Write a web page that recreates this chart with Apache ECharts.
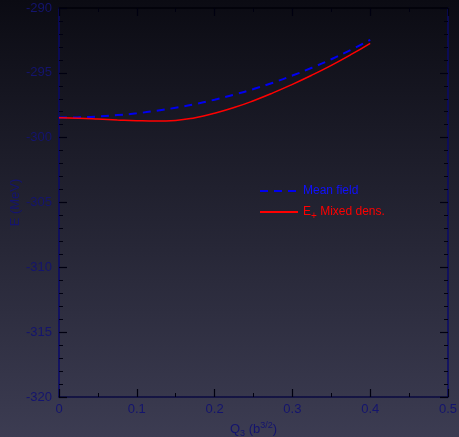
<!DOCTYPE html>
<html>
<head>
<meta charset="utf-8">
<script src="https://cdn.jsdelivr.net/npm/echarts@6/dist/echarts.min.js"></script>
<style>
html,body{margin:0;padding:0;}
#chart{width:459px;height:437px;}
</style>
</head>
<body>
<div id="chart"></div>
<script>
const q3Values = [0, 0.025, 0.05, 0.075, 0.1, 0.125, 0.15, 0.175, 0.2, 0.225, 0.25, 0.275, 0.3, 0.325, 0.35, 0.375, 0.4];
const meanField = [-298.45, -298.43, -298.37, -298.26, -298.12, -297.93, -297.69, -297.41, -297.07, -296.68, -296.25, -295.76, -295.21, -294.61, -293.95, -293.23, -292.45];
const mixedDens = [-298.46, -298.50, -298.56, -298.63, -298.69, -298.72, -298.67, -298.46, -298.12, -297.68, -297.15, -296.55, -295.89, -295.18, -294.42, -293.60, -292.72];
const xTicks = [0, 0.1, 0.2, 0.3, 0.4, 0.5];
const yTicks = [-320, -315, -310, -305, -300, -295, -290];

const labelColor = '#14146e';
const fontFam = '"Liberation Sans", Arial, Helvetica, sans-serif';

const chart = echarts.init(document.getElementById('chart'), null, {renderer: 'canvas'});

function pairs(xs, ys) { return xs.map((x, i) => [x, ys[i]]); }

const tickCommon = {
  axisTick: {show: true, inside: true, length: 8, lineStyle: {color: '#000010', width: 1.2}},
  splitLine: {show: false},
  minorSplitLine: {show: false}
};

const option = {
  animation: false,
  backgroundColor: new echarts.graphic.LinearGradient(0, 0, 0, 1, [
    {offset: 0, color: '#0b0b13'},
    {offset: 1, color: '#3c3c52'}
  ]),
  grid: {left: 59, top: 8, right: 11, bottom: 40, containLabel: false, outerBoundsMode: 'none'},
  xAxis: [{
    type: 'value', min: xTicks[0], max: xTicks[xTicks.length - 1], interval: 0.1,
    position: 'bottom',
    axisLine: {show: true, onZero: false, lineStyle: {color: '#0a0a40', width: 1.5}},
    axisLabel: {color: labelColor, fontSize: 13, fontFamily: fontFam, margin: 6,
      formatter: v => (Math.round(v * 10) / 10).toString()},
    ...tickCommon,
    minorTick: {show: true, splitNumber: 2, length: 4, lineStyle: {color: '#000010', width: 1}},
    name: '{n|Q}{sub|3}{n| (b}{sup|3/2}{n|)}',
    nameLocation: 'middle', nameGap: 24, nameMoveOverlap: false,
    nameTextStyle: {
      color: labelColor, fontFamily: fontFam, fontSize: 13,
      rich: {
        n: {color: labelColor, fontFamily: fontFam, fontSize: 13},
        sub: {color: labelColor, fontFamily: fontFam, fontSize: 9, padding: [8, 0, 0, 0]},
        sup: {color: labelColor, fontFamily: fontFam, fontSize: 9, padding: [0, 0, 8, 0]}
      }
    }
  }, {
    type: 'value', min: xTicks[0], max: xTicks[xTicks.length - 1], interval: 0.1,
    position: 'top',
    axisLine: {show: true, onZero: false, lineStyle: {color: '#000008', width: 1.5}},
    axisLabel: {show: false},
    ...tickCommon,
    minorTick: {show: true, splitNumber: 2, length: 4, lineStyle: {color: '#000010', width: 1}}
  }],
  yAxis: [{
    type: 'value', min: yTicks[0], max: yTicks[yTicks.length - 1], interval: 5,
    position: 'left',
    axisLine: {show: true, onZero: false, lineStyle: {color: '#0a0a6a', width: 1.5}},
    axisLabel: {color: labelColor, fontSize: 13, fontFamily: fontFam, margin: 7},
    ...tickCommon,
    minorTick: {show: true, splitNumber: 5, length: 4, lineStyle: {color: '#000010', width: 1}},
    name: 'E (MeV)', nameLocation: 'middle', nameGap: 37, nameMoveOverlap: false,
    nameTextStyle: {color: labelColor, fontFamily: fontFam, fontSize: 13}
  }, {
    type: 'value', min: yTicks[0], max: yTicks[yTicks.length - 1], interval: 5,
    position: 'right',
    axisLine: {show: true, onZero: false, lineStyle: {color: '#0a0a6a', width: 1.5}},
    axisLabel: {show: false},
    ...tickCommon,
    minorTick: {show: true, splitNumber: 5, length: 4, lineStyle: {color: '#000010', width: 1}}
  }],
  legend: {
    orient: 'vertical', left: 254, top: 180, itemWidth: 38, itemHeight: 10, itemGap: 9,
    itemStyle: {opacity: 0},
    data: [
      {name: 'Mean field', textStyle: {color: '#1010ff'}},
      {name: 'Mixed', textStyle: {color: '#ff0000'}}
    ],
    formatter: function (name) {
      if (name === 'Mixed') return '{r|E}{rs|+}{r| Mixed dens.}';
      return 'Mean field';
    },
    textStyle: {
      fontFamily: fontFam, fontSize: 12, color: '#1010ff',
      rich: {
        r: {color: '#ff0000', fontFamily: fontFam, fontSize: 12},
        rs: {color: '#ff0000', fontFamily: fontFam, fontSize: 10, padding: [9, 0, 0, 0]}
      }
    }
  },
  series: [{
    name: 'Mean field', type: 'line', xAxisIndex: 0, yAxisIndex: 0,
    data: pairs(q3Values, meanField), smooth: 0.5, showSymbol: false, symbol: 'none',
    lineStyle: {color: '#0000f0', width: 2, type: [8, 6]},
    itemStyle: {color: '#0000f0'}
  }, {
    name: 'Mixed', type: 'line', xAxisIndex: 0, yAxisIndex: 0,
    data: pairs(q3Values, mixedDens), smooth: 0.5, showSymbol: false, symbol: 'none',
    lineStyle: {color: '#ff0000', width: 1.5},
    itemStyle: {color: '#ff0000'}
  }]
};
chart.setOption(option);
</script>
</body>
</html>
